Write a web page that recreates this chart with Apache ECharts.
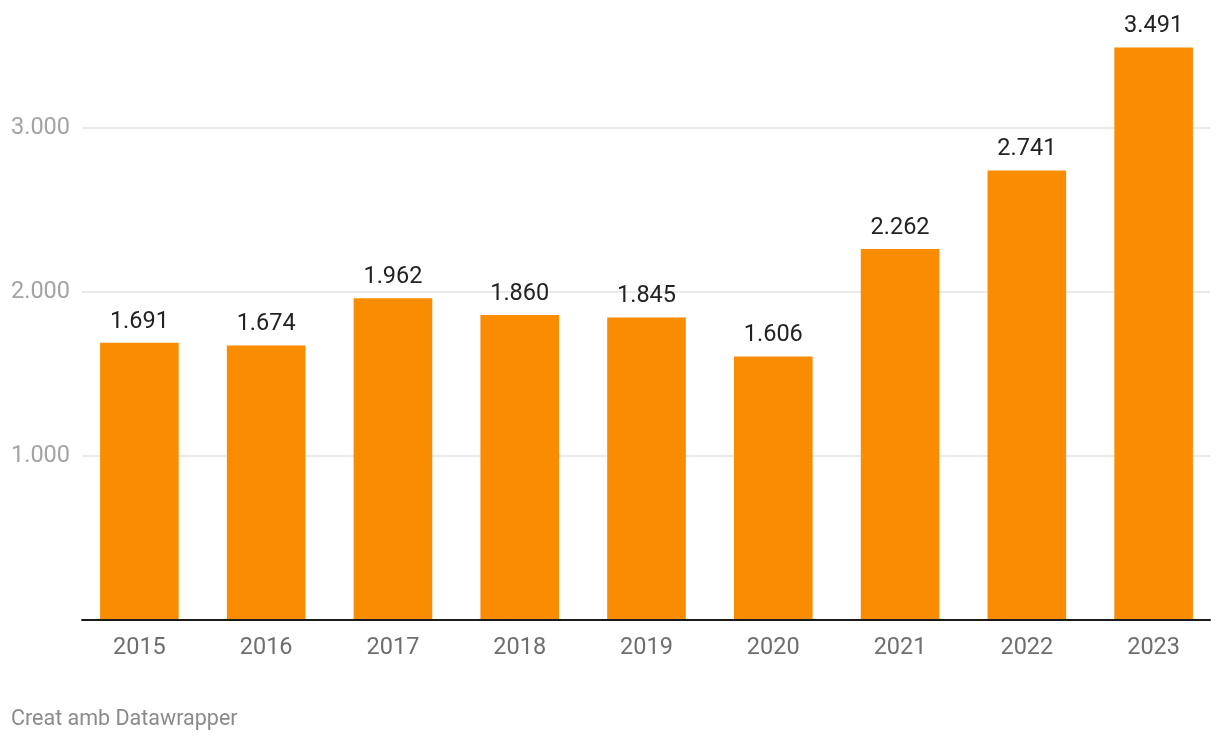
<!DOCTYPE html>
<html>
<head>
<meta charset="utf-8">
<script src="https://cdn.jsdelivr.net/npm/echarts@6/dist/echarts.min.js"></script>
<style>
html,body{margin:0;padding:0;background:#fff;}
#c{width:1220px;height:742px;}
</style>
</head>
<body>
<div id="c"></div>
<script>
const categories = ['2015','2016','2017','2018','2019','2020','2021','2022','2023'];
const values = [1691, 1674, 1962, 1860, 1845, 1606, 2262, 2741, 3491];
const yTicks = [0, 1000, 2000, 3000];
const footer = 'Creat amb Datawrapper';

function fmt(v){ return String(v).replace(/\B(?=(\d{3})+(?!\d))/g, '.'); }

const chart = echarts.init(document.getElementById('c'), null, {renderer:'canvas'});
const FONT = 'Roboto';
chart.setOption({
  animation:false,
  backgroundColor:'#ffffff',
  textStyle:{fontFamily:FONT},
  graphic:[{type:'text', left:11, top:709, style:{text:footer, fontFamily:FONT, fontSize:21.5, fill:'#8a8a8a'}}],
  grid:[
    {left:82, right:10, top:128, bottom:122, containLabel:false},
    {left:76, right:3, top:46, bottom:122, containLabel:false}
  ],
  xAxis:[
    {type:'category', gridIndex:0, data:categories, axisLine:{show:true, lineStyle:{color:'#1a1a1a', width:2}}, axisTick:{show:false}, axisLabel:{show:false}, splitLine:{show:false}, z:5},
    {type:'category', gridIndex:1, data:categories, axisLine:{show:false}, axisTick:{show:false},
     axisLabel:{color:'#6e6e6e', fontSize:23.5, fontFamily:FONT, margin:16}}
  ],
  yAxis:[
    {type:'value', gridIndex:0, min:0, max:yTicks[yTicks.length-1], interval:1000,
     axisLine:{show:false}, axisTick:{show:false},
     axisLabel:{color:'#a3a3a3', fontSize:23.5, fontFamily:FONT, margin:12,
       formatter:function(v){ return v===0 ? '' : fmt(v); }},
     splitLine:{show:true, lineStyle:{color:'#e3e3e3', width:1.5}}
    },
    {type:'value', gridIndex:1, min:0, max:3500, show:false}
  ],
  series:[{
    type:'bar', xAxisIndex:1, yAxisIndex:1, data:values, barWidth:'62%',
    itemStyle:{color:'#F98C00'},
    label:{show:true, position:'top', distance:9, color:'#222222', fontSize:23.5, fontFamily:FONT,
      formatter:function(p){ return fmt(p.value); }},
    z:3
  }]
});
</script>
</body>
</html>
